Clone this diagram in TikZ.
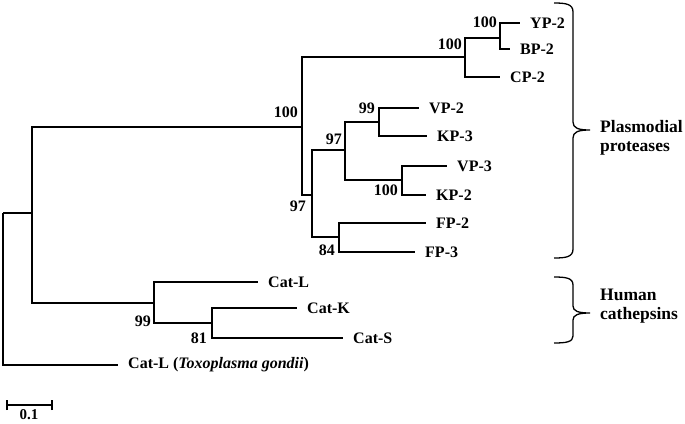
\documentclass[tikz,border=0pt]{standalone}
\usepackage{fontspec}
\setmainfont{Liberation Serif}
\begin{document}
\begin{tikzpicture}[x=1pt,y=-1pt,
  br/.style={line width=1.7pt, line join=miter},
  lf/.style={anchor=west, inner sep=0pt, xshift=10pt, font=\fontsize{16}{18}\selectfont\bfseries},
  bt/.style={anchor=east, inner sep=0pt, font=\fontsize{16}{18}\selectfont\bfseries},
  grp/.style={anchor=west, inner sep=0pt, align=left, font=\fontsize{17.5}{19}\selectfont\bfseries},
  brace/.style={line width=1.3pt}]
\useasboundingbox (0,0) rectangle (685,423);
% internal nodes
\coordinate (r) at (3,213);
\coordinate (A) at (32,213);
\coordinate (P) at (302,127);
\coordinate (B) at (465,57);
\coordinate (C) at (500,38);
\coordinate (D) at (312,195);
\coordinate (E) at (345,150);
\coordinate (F) at (379,122);
\coordinate (G) at (402,180);
\coordinate (H) at (339,237);
\coordinate (I) at (154,303);
\coordinate (J) at (212,323);
% leaves
\coordinate (YP) at (520,23);
\coordinate (BP) at (510,49);
\coordinate (CP) at (500,77);
\coordinate (VP2) at (419,108);
\coordinate (KP3) at (427,136);
\coordinate (VP3) at (447,166);
\coordinate (KP2) at (426,195);
\coordinate (FP2) at (426,223);
\coordinate (FP3) at (415,252);
\coordinate (CatL) at (258,282);
\coordinate (CatK) at (297,308);
\coordinate (CatS) at (343,338);
\coordinate (Toxo) at (118,365);
% branches
\draw[br] (r) |- (A);
\draw[br] (r) |- (Toxo);
\draw[br] (A) |- (P);
\draw[br] (A) |- (I);
\draw[br] (P) |- (B);
\draw[br] (P) |- (D);
\draw[br] (B) |- (C);
\draw[br] (B) |- (CP);
\draw[br] (C) |- (YP);
\draw[br] (C) |- (BP);
\draw[br] (D) |- (E);
\draw[br] (D) |- (H);
\draw[br] (E) |- (F);
\draw[br] (E) |- (G);
\draw[br] (F) |- (VP2);
\draw[br] (F) |- (KP3);
\draw[br] (G) |- (VP3);
\draw[br] (G) |- (KP2);
\draw[br] (H) |- (FP2);
\draw[br] (H) |- (FP3);
\draw[br] (I) |- (CatL);
\draw[br] (I) |- (J);
\draw[br] (J) |- (CatK);
\draw[br] (J) |- (CatS);
% leaf labels
\node[lf] (lYP) at (YP) {YP-2};
\node[lf] (lBP) at (BP) {BP-2};
\node[lf] (lCP) at (CP) {CP-2};
\node[lf] (lVP2) at (VP2) {VP-2};
\node[lf] (lKP3) at (KP3) {KP-3};
\node[lf] (lVP3) at (VP3) {VP-3};
\node[lf] (lKP2) at (KP2) {KP-2};
\node[lf] (lFP2) at (FP2) {FP-2};
\node[lf] (lFP3) at (FP3) {FP-3};
\node[lf] (lCatL) at (CatL) {Cat-L};
\node[lf] (lCatK) at (CatK) {Cat-K};
\node[lf] (lCatS) at (CatS) {Cat-S};
\node[lf] (lToxo) at (Toxo) {Cat-L (\textit{Toxoplasma gondii})};
% bootstrap values
\node[bt] (bC) at (497,22) {100};
\node[bt] (bB) at (462,44) {100};
\node[bt] (bP) at (298,112) {100};
\node[bt] (bD) at (306,206) {97};
\node[bt] (bE) at (342,139) {97};
\node[bt] (bF) at (375,108) {99};
\node[bt] (bG) at (398,190) {100};
\node[bt] (bH) at (335,250) {84};
\node[bt] (bI) at (151,321) {99};
\node[bt] (bJ) at (207,338) {81};
% scale bar
\coordinate (s1) at (7,405);
\coordinate (s2) at (52,405);
\draw[br] (s1) -- (s2);
\draw[line width=1.7pt] ([yshift=-5pt]s1) -- ([yshift=5pt]s1);
\draw[line width=1.7pt] ([yshift=-5pt]s2) -- ([yshift=5pt]s2);
\node[inner sep=0pt, font=\fontsize{15}{17}\selectfont\bfseries] (sc) at (29,415) {0.1};
% braces
\draw[brace] (554,3) .. controls (566,3) and (573,4) .. (573,12) -- (573,122)
  .. controls (573,128) and (578,130) .. (590,130)
  .. controls (578,130) and (573,132) .. (573,138) -- (573,249)
  .. controls (573,257) and (566,258) .. (554,258);
\draw[brace] (554,277) .. controls (566,277) and (573,278) .. (573,285) -- (573,306)
  .. controls (573,311) and (578,313) .. (590,313)
  .. controls (578,313) and (573,315) .. (573,320) -- (573,336)
  .. controls (573,342) and (566,343) .. (554,343);
\node[grp] (gP) at (600,138) {Plasmodial\\proteases};
\node[grp] (gH) at (600,306) {Human\\cathepsins};
\end{tikzpicture}
\end{document}
